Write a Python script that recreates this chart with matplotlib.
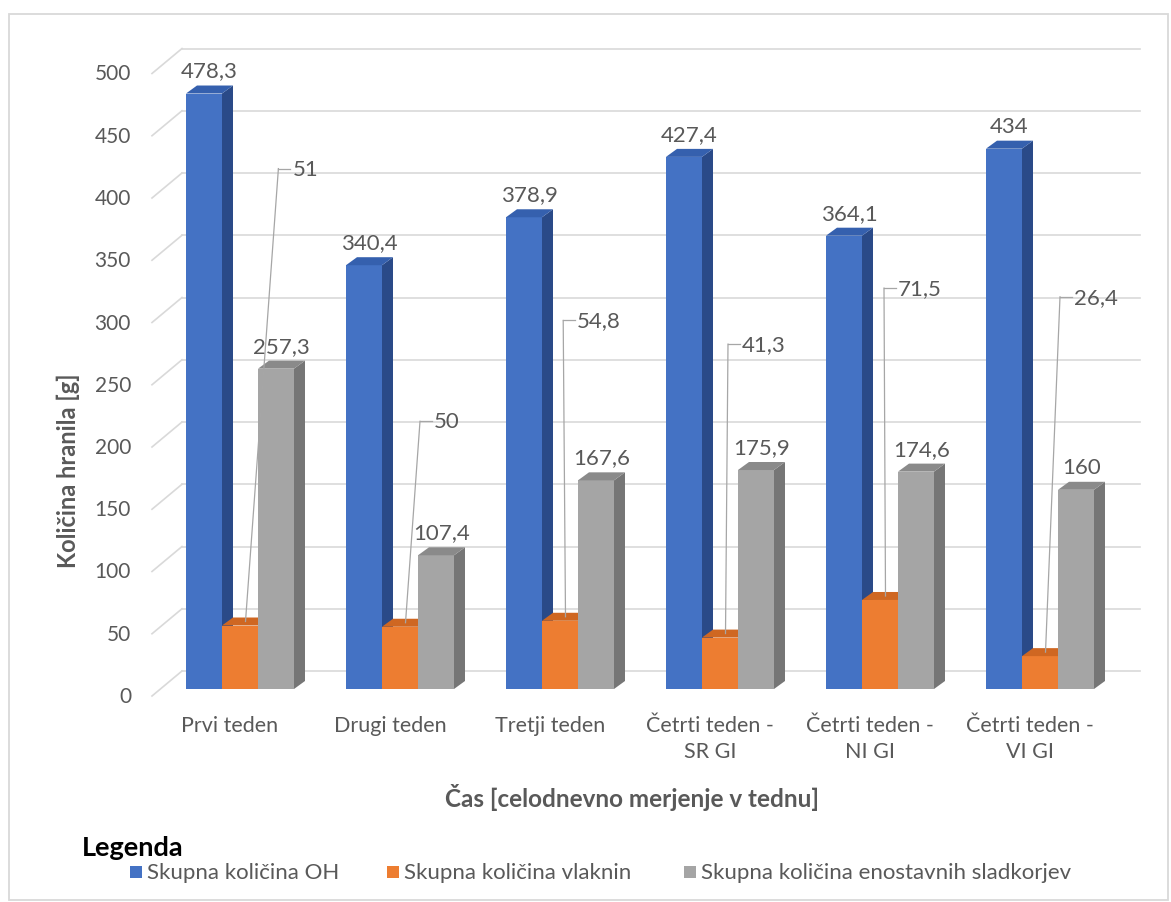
import matplotlib
matplotlib.use("Agg")
import matplotlib.pyplot as plt
from matplotlib.patches import Polygon, Rectangle
import numpy as np

# ---------------- data ----------------
categories = ["Prvi teden", "Drugi teden", "Tretji teden",
              "Četrti teden -\nSR GI", "Četrti teden -\nNI GI", "Četrti teden -\nVI GI"]
oh_values = [478.3, 340.4, 378.9, 427.4, 364.1, 434]
fibre_values = [51, 50, 54.8, 41.3, 71.5, 26.4]
sugar_values = [257.3, 107.4, 167.6, 175.9, 174.6, 160]
series_names = ["Skupna količina OH", "Skupna količina vlaknin",
                "Skupna količina enostavnih sladkorjev"]
y_ticks = list(range(0, 501, 50))

# placement of the leader-line labels of the fibre series (style only)
lead_dx = [0.24, 0.125, 0.02, 0.05, 0.025, 0.125]
lead_y = [418, 215, 296, 277, 322, 315]

plt.rcParams["font.family"] = ["Lato", "DejaVu Sans"]
TXT = "#595959"
GRID = "#d9d9d9"

W, H = 1171, 903
fig = plt.figure(figsize=(W / 100, H / 100), dpi=100)
fig.patch.set_facecolor("white")

# bar plane axes
ax_left, ax_right, ax_base, ax_top = 160, 1120, 690, 67.5
ax = fig.add_axes([ax_left / W, (H - ax_base) / H, (ax_right - ax_left) / W, (ax_base - ax_top) / H])
ax.set_xlim(-0.5, 5.5)
ax.set_ylim(0, 500)
ax.axis("off")

px_x = (ax_right - ax_left) / 6.0
px_y = (ax_base - ax_top) / 500.0


def PX(d):
    return d / px_x


def PY(d):
    return d / px_y


# chart border
fig.add_artist(Rectangle((9 / W, (H - 901) / H), (1168 - 9) / W, (901 - 15) / H,
                         transform=fig.transFigure, fill=False, ec=GRID, lw=1.3))

# back wall gridlines, side-wall diagonals, tick labels
for v in y_ticks:
    ax.plot([-0.5 + PX(22), 5.5 + PX(20)], [v + PY(18)] * 2, color=GRID, lw=1.2,
            zorder=0, clip_on=False)
    ax.plot([-0.5 - PX(8), -0.5 + PX(22)], [v - PY(7), v + PY(18)], color=GRID, lw=1.2,
            zorder=0, clip_on=False)
    ax.text(-0.5 - PX(29), v - PY(7), str(v), ha="right", va="center",
            fontsize=15, color=TXT)

bw = 0.225
ddx, ddy = PX(11), PY(8)
palette = [("#4472C4", "#2A4A88", "#3560AE"),
           ("#ED7D31", "#B35C1E", "#CF6722"),
           ("#A5A5A5", "#767676", "#8A8A8A")]


def fmt(v):
    return ("%g" % v).replace(".", ",")


all_series = [oh_values, fibre_values, sugar_values]
x_idx = np.arange(len(categories))
for j, vals in enumerate(all_series):
    front, side, top = palette[j]
    xs = x_idx + (j - 1) * bw
    z = 3 + j
    ax.bar(xs, vals, width=bw, color=front, linewidth=0, zorder=z, label=series_names[j])
    for x, v in zip(xs, vals):
        xl, xr = x - bw / 2, x + bw / 2
        ax.add_patch(Polygon([(xr, 0), (xr + ddx, ddy), (xr + ddx, v + ddy), (xr, v)],
                             closed=True, fc=side, ec="none", zorder=z, clip_on=False))
        ax.add_patch(Polygon([(xl, v), (xl + ddx, v + ddy), (xr + ddx, v + ddy), (xr, v)],
                             closed=True, fc=top, ec="none", zorder=z, clip_on=False))

# data labels
for j in (0, 2):
    xs = x_idx + (j - 1) * bw
    for x, v in zip(xs, all_series[j]):
        ax.text(x + ddx / 2, v + PY(23), fmt(v), ha="center", va="center",
                fontsize=16, color=TXT, zorder=10, clip_on=False)

for i, v in enumerate(fibre_values):
    sx, sy = i + ddx / 2, v + ddy / 2
    axx, ayy = i + lead_dx[i], lead_y[i]
    ax.plot([sx, axx], [sy, ayy], color="#a6a6a6", lw=0.9, zorder=10, clip_on=False)
    ax.plot([axx, axx + PX(12)], [ayy, ayy], color="#a6a6a6", lw=0.9, zorder=10, clip_on=False)
    ax.text(axx + PX(14), ayy, fmt(v), ha="left", va="center", fontsize=16,
            color=TXT, zorder=10, clip_on=False)

# category labels
for i, c in enumerate(categories):
    ax.text(i - PX(10), -PY(26), c, ha="center", va="top", fontsize=15.5, color=TXT,
            linespacing=1.35, clip_on=False)

# axis titles
fig.text(632 / W, 1 - 798 / H, "Čas [celodnevno merjenje v tednu]", ha="center", va="center",
         fontsize=17.5, fontweight="bold", color=TXT)
fig.text(68 / W, 1 - 471 / H, "Količina hranila [g]", ha="center", va="center", rotation=90,
         fontsize=17, fontweight="bold", color=TXT)

# legend
fig.text(82 / W, 1 - 848 / H, "Legenda", ha="left", va="center", fontsize=19.5,
         fontweight="bold", color="black")
leg_x = [130, 387, 684]
for j in range(3):
    fig.add_artist(Rectangle((leg_x[j] / W, (H - 879) / H), 12 / W, 12 / H,
                             transform=fig.transFigure, fc=palette[j][0], ec="none"))
    fig.text((leg_x[j] + 17) / W, 1 - 873 / H, series_names[j], ha="left", va="center",
             fontsize=16, color=TXT)

fig.savefig("out.png", dpi=100, facecolor="white")
